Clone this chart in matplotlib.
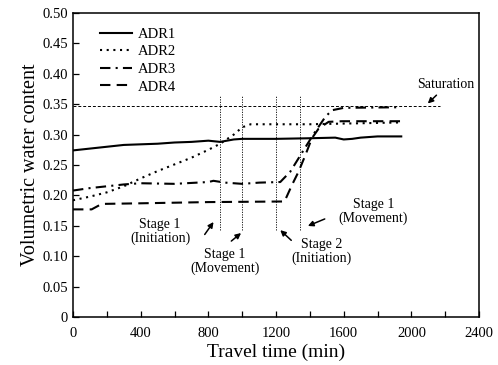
import matplotlib
matplotlib.use("Agg")
import matplotlib.pyplot as plt
from matplotlib.ticker import MultipleLocator

plt.rcParams["font.family"] = ["Liberation Serif", "DejaVu Serif"]

# ── data ─────────────────────────────────────────────────────────────────────
adr1_t = [0, 100, 200, 300, 400, 500, 600, 700, 800, 870, 950, 1000, 1200, 1400,
          1550, 1600, 1650, 1700, 1800, 1940]
adr1_v = [0.274, 0.277, 0.280, 0.283, 0.284, 0.285, 0.287, 0.288, 0.290, 0.288,
          0.292, 0.293, 0.293, 0.294, 0.295, 0.292, 0.293, 0.295, 0.297, 0.297]

adr2_t = [0, 100, 200, 300, 400, 500, 600, 700, 800, 870, 950, 1000, 1050, 1400, 1940]
adr2_v = [0.192, 0.198, 0.205, 0.215, 0.228, 0.240, 0.251, 0.262, 0.275, 0.285,
          0.300, 0.312, 0.317, 0.317, 0.320]

adr3_t = [0, 100, 200, 300, 400, 600, 800, 830, 900, 1000, 1100, 1225, 1284,
          1333, 1382, 1432, 1491, 1530, 1600, 1940]
adr3_v = [0.208, 0.212, 0.215, 0.218, 0.220, 0.219, 0.222, 0.224, 0.221, 0.219,
          0.221, 0.222, 0.239, 0.261, 0.283, 0.305, 0.329, 0.340, 0.344, 0.345]

adr4_t = [0, 110, 170, 400, 800, 1250, 1294, 1333, 1373, 1412, 1452, 1511, 1590, 1940]
adr4_v = [0.177, 0.177, 0.186, 0.187, 0.189, 0.190, 0.217, 0.239, 0.266, 0.294,
          0.310, 0.321, 0.322, 0.322]

saturation = 0.347
saturation_end = 2170
stage_times = [870, 1000, 1200, 1340]
stage_span = (0.143, 0.365)

# label text, label position, arrow head, arrow tail
stage_notes = [
    ("Stage 1\n(Initiation)", (515, 0.141), (840, 0.160), (769, 0.132)),
    ("Stage 1\n(Movement)", (899, 0.092), (1006, 0.141), (923, 0.122)),
    ("Stage 2\n(Initiation)", (1467, 0.107), (1213, 0.146), (1302, 0.123)),
    ("Stage 1\n(Movement)", (1775, 0.173), (1373, 0.148), (1503, 0.163)),
]

# ── plot ─────────────────────────────────────────────────────────────────────
fig = plt.figure(figsize=(4.98, 3.65), dpi=100)
ax = fig.add_axes([0.1466, 0.1315, 0.8154, 0.8329])

ax.plot(adr1_t, adr1_v, color="black", lw=1.5, ls="-", label="ADR1")
ax.plot(adr2_t, adr2_v, color="black", lw=1.5, ls=(0, (1, 2.2)), label="ADR2")
ax.plot(adr3_t, adr3_v, color="black", lw=1.5, ls=(0, (5, 2.5, 1, 2.5)), label="ADR3")
ax.plot(adr4_t, adr4_v, color="black", lw=1.5, ls=(0, (5, 3)), label="ADR4")

ax.plot([0, saturation_end], [saturation, saturation], color="black", lw=0.7,
        ls=(0, (3, 2)))
for t in stage_times:
    ax.plot([t, t], stage_span, color="black", lw=0.6, ls=(0, (1.5, 1.5)))

ax.text(2201, 0.382, "Saturation", fontsize=10, ha="center", va="center")
ax.annotate("", xy=(2085, 0.348), xytext=(2160, 0.368),
            arrowprops=dict(arrowstyle="-|>", color="black", lw=1.1,
                            mutation_scale=8))

for txt, pos, head, tail in stage_notes:
    ax.text(pos[0], pos[1], txt, fontsize=10, ha="center", va="center",
            linespacing=1.05)
    ax.annotate("", xy=head, xytext=tail,
                arrowprops=dict(arrowstyle="-|>", color="black", lw=1.1,
                                mutation_scale=8))

ax.set_xlim(0, 2400)
ax.set_ylim(0, 0.50)
ax.xaxis.set_major_locator(MultipleLocator(400))
ax.xaxis.set_minor_locator(MultipleLocator(200))
ax.set_yticks([0, 0.05, 0.10, 0.15, 0.20, 0.25, 0.30, 0.35, 0.40, 0.45, 0.50])
ax.set_yticklabels(["0", "0.05", "0.10", "0.15", "0.20", "0.25", "0.30",
                    "0.35", "0.40", "0.45", "0.50"])
ax.tick_params(which="both", direction="in", length=4, width=0.9,
               labelsize=10.5, top=False, right=False)
ax.tick_params(axis="x", pad=7)

for s in ax.spines.values():
    s.set_linewidth(1.1)

ax.set_xlabel("Travel time (min)", fontsize=14, labelpad=3)
ax.set_ylabel("Volumetric water content", fontsize=14.5, labelpad=2)

leg = ax.legend(loc="upper left", frameon=False, fontsize=10.5,
                handlelength=2.2, handletextpad=0.4, labelspacing=0.3,
                borderaxespad=0.5, bbox_to_anchor=(0.035, 0.995))

fig.savefig("out.png", dpi=100)
